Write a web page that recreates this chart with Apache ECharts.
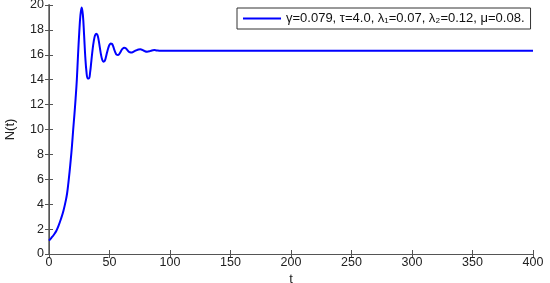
<!DOCTYPE html>
<html>
<head>
<meta charset="utf-8">
<script src="https://cdn.jsdelivr.net/npm/echarts@6/dist/echarts.min.js"></script>
<style>
  html, body { margin: 0; padding: 0; background: #fff; }
  #main { width: 550px; height: 283px; }
</style>
</head>
<body>
<div id="main"></div>
<script>
// values
var tValues = [0, 2, 4, 6, 8, 10, 12, 14, 15, 16, 17, 18, 19, 20, 21, 22, 23, 24, 25, 26, 27, 28, 29, 30,
  31, 32, 33, 34, 35, 36, 37, 38, 39, 40, 41, 42, 43, 44, 45, 46, 47, 48, 49, 50, 51, 52, 53, 54, 55,
  56, 57, 58, 59, 60, 61, 62, 63, 64, 65, 66, 67, 68, 69, 70, 72, 74, 75.5, 77, 79, 81, 83, 85, 87, 89,
  92, 95, 400];
var nValues = [1.07, 1.3, 1.55, 1.85, 2.3, 2.85, 3.5, 4.35, 4.9, 5.7, 6.6, 7.6, 8.7, 10.0, 11.2, 12.5,
  14.0, 16.0, 17.8, 19.2, 19.8, 19.2, 17.6, 15.8,
  14.6, 14.1, 14.1, 14.6, 15.5, 16.4, 17.1, 17.55, 17.7, 17.6, 17.2, 16.6, 16.0, 15.6, 15.45, 15.5,
  15.8, 16.2, 16.55, 16.8, 16.9, 16.88, 16.7, 16.4, 16.15,
  16.0, 15.98, 16.05, 16.2, 16.38, 16.5, 16.56, 16.55, 16.48, 16.35, 16.25, 16.2, 16.18, 16.2, 16.25,
  16.35, 16.43, 16.44, 16.4, 16.3, 16.25, 16.28, 16.35, 16.38, 16.35,
  16.32, 16.33, 16.33];
var seriesName = 'γ=0.079, τ=4.0, λ₁=0.07, λ₂=0.12, μ=0.08.';
var xTicks = [0, 400, 50];
var yTicks = [0, 20, 2];

var pts = tValues.map(function (t, i) { return [t, nValues[i]]; });

var frame = '#555';
var fontFam = 'Liberation Sans, Arial, sans-serif';

function frameAxis(pos, isX) {
  var r = isX ? xTicks : yTicks;
  return {
    type: 'value', position: pos, min: r[0], max: r[1], interval: r[2],
    axisLine: { show: true, lineStyle: { color: frame, width: 1 } },
    axisTick: { show: true, inside: true, length: 4, lineStyle: { color: frame } },
    axisLabel: { show: false },
    splitLine: { show: false }
  };
}

var chart = echarts.init(document.getElementById('main'));
chart.setOption({
  animation: false,
  grid: { left: 49, right: 17, top: 5, bottom: 29, containLabel: false, outerBoundsMode: 'none' },
  legend: {
    left: 237, top: 8,
    padding: [4, 6, 4, 6],
    backgroundColor: '#fff',
    borderColor: '#333', borderWidth: 1, borderRadius: 0,
    icon: 'rect', itemWidth: 38, itemHeight: 2, itemGap: 4,
    textStyle: { color: '#111', fontSize: 13, fontFamily: fontFam },
    data: [seriesName]
  },
  xAxis: [{
    type: 'value', min: xTicks[0], max: xTicks[1], interval: xTicks[2],
    name: 't', nameLocation: 'middle', nameGap: 19, nameMoveOverlap: false,
    nameTextStyle: { color: '#222', fontSize: 13, fontFamily: fontFam },
    axisLine: { show: true, onZero: false, lineStyle: { color: frame, width: 1 } },
    axisTick: { show: true, inside: true, length: 4, lineStyle: { color: frame } },
    axisLabel: { margin: 2, color: '#222', fontSize: 12.5, fontFamily: fontFam },
    splitLine: { show: false }
  }, frameAxis('top', true)],
  yAxis: [{
    type: 'value', min: yTicks[0], max: yTicks[1], interval: yTicks[2],
    name: 'N(t)', nameLocation: 'middle', nameGap: 32, nameMoveOverlap: false,
    nameTextStyle: { color: '#222', fontSize: 13, fontFamily: fontFam },
    axisLine: { show: true, onZero: false, lineStyle: { color: '#888', width: 2 } },
    axisTick: { show: true, inside: true, length: 4, lineStyle: { color: frame } },
    axisLabel: { margin: 5, color: '#222', fontSize: 12.5, fontFamily: fontFam },
    splitLine: { show: false }
  }, frameAxis('right', false)],
  series: [{
    name: seriesName,
    type: 'line',
    data: pts,
    smooth: 0.4,
    showSymbol: false,
    lineStyle: { color: '#0000ff', width: 2 },
    itemStyle: { color: '#0000ff' }
  }]
});
</script>
</body>
</html>
